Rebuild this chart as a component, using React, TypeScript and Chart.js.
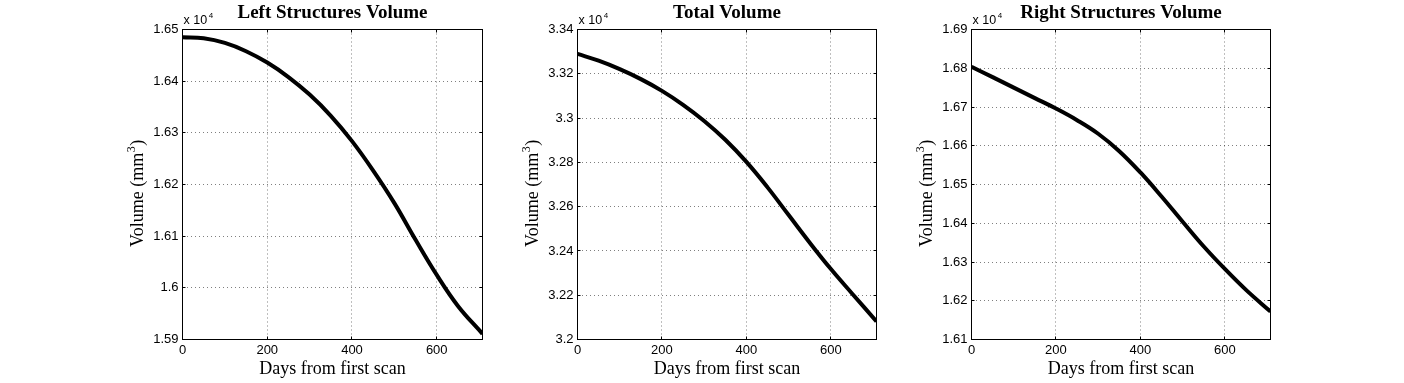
import React, { useEffect, useRef } from "react";
import { Chart, registerables } from "chart.js";

Chart.register(...registerables);

// ---- data (volumes in mm^3, shown on axis in units of 10^4) ----
const days = [0, 50, 100, 150, 200, 250, 300, 350, 400, 450, 500, 550, 600, 650, 708];
const leftVolume = [16485, 16483, 16474, 16458, 16436, 16408, 16374, 16333, 16284, 16227, 16164, 16093, 16025, 15965, 15911];
const totalVolume = [33290, 33259, 33221, 33176, 33123, 33060, 32987, 32902, 32802, 32687, 32562, 32437, 32318, 32208, 32082];
const rightVolume = [16804, 16777, 16750, 16723, 16696, 16666, 16631, 16586, 16531, 16469, 16404, 16340, 16282, 16228, 16172];

const titles = ["Left Structures Volume", "Total Volume", "Right Structures Volume"];
const yMins = [15900, 32000, 16100];
const yMaxs = [16500, 33400, 16900];
const ySteps = [100, 200, 100];
const xMax = 708;
const xStep = 200;
const xLabel = "Days from first scan";
const yLabelMain = "Volume (mm";
const yLabelSup = "3";
const yLabelEnd = ")";
const multiplierBase = "x 10";
const multiplierExp = "4";

// ---- layout ----
const H = 383;
const CANVAS_W = 430;
const AXIS_W = 102.5;
const PLOT_TOP = 29.5;
const PLOT_BOTTOM = 339.5;
const plotLefts = [182.5, 577.5, 971.5];
const plotWidths = [300, 299, 299];

const fmt = (v: number) => String(parseFloat((v / 1e4).toFixed(4)));

const framePlugin = {
  id: "matlabFrame",
  afterDraw(chart: any) {
    const { ctx, chartArea, scales } = chart;
    const { left, right, top, bottom } = chartArea;
    const title = chart.options.plugins.matlabFrame.title;
    ctx.save();
    ctx.strokeStyle = "#000";
    ctx.lineWidth = 1;
    ctx.strokeRect(left, top, right - left, bottom - top);
    const tl = 3;
    ctx.beginPath();
    scales.x.ticks.forEach((t: any) => {
      const px = Math.round(scales.x.getPixelForValue(t.value) - 0.5) + 0.5;
      ctx.moveTo(px, bottom);
      ctx.lineTo(px, bottom - tl);
      ctx.moveTo(px, top);
      ctx.lineTo(px, top + tl);
    });
    scales.y.ticks.forEach((t: any) => {
      const py = Math.round(scales.y.getPixelForValue(t.value) - 0.5) + 0.5;
      ctx.moveTo(left, py);
      ctx.lineTo(left + tl, py);
      ctx.moveTo(right, py);
      ctx.lineTo(right - tl, py);
    });
    ctx.stroke();

    ctx.fillStyle = "#000";
    // title
    ctx.font = 'bold 19px "Liberation Serif"';
    ctx.textAlign = "center";
    ctx.textBaseline = "alphabetic";
    ctx.fillText(title, (left + right) / 2, 17.5);

    // x 10^4
    ctx.textAlign = "left";
    ctx.font = '12.5px "Liberation Sans"';
    ctx.fillText(multiplierBase, left + 1, 24);
    const wb = ctx.measureText(multiplierBase).width;
    ctx.font = '8px "Liberation Sans"';
    ctx.fillText(multiplierExp, left + 1 + wb + 1.5, 17.5);

    // x label
    ctx.font = '18px "Liberation Serif"';
    ctx.textAlign = "center";
    ctx.fillText(xLabel, (left + right) / 2, 374);

    // y label
    ctx.save();
    ctx.translate(left - 39.8, 247);
    ctx.rotate(-Math.PI / 2);
    ctx.textAlign = "left";
    ctx.font = '18px "Liberation Serif"';
    ctx.fillText(yLabelMain, 0, 0);
    const w1 = ctx.measureText(yLabelMain).width;
    ctx.font = '12px "Liberation Serif"';
    ctx.fillText(yLabelSup, w1 + 0.5, -8);
    const w2 = ctx.measureText(yLabelSup).width;
    ctx.font = '18px "Liberation Serif"';
    ctx.fillText(yLabelEnd, w1 + w2 + 1, 0);
    ctx.restore();

    ctx.restore();
  },
};

type PanelProps = {
  title: string;
  values: number[];
  yMin: number;
  yMax: number;
  yStep: number;
  plotLeft: number;
  plotWidth: number;
};

function Panel({ title, values, yMin, yMax, yStep, plotLeft, plotWidth }: PanelProps) {
  const ref = useRef<HTMLCanvasElement>(null);
  useEffect(() => {
    if (!ref.current) return;
    const tickFont = { family: '"Liberation Sans"', size: 13 };
    const gridColor = "rgba(0,0,0,0.5)";
    const chart = new Chart(ref.current, {
      type: "line",
      data: {
        datasets: [
          {
            data: days.map((d, i) => ({ x: d, y: values[i] })),
            borderColor: "#000",
            borderWidth: 4,
            pointRadius: 0,
            fill: false,
            tension: 0.4,
            cubicInterpolationMode: "default",
          },
        ],
      },
      options: {
        animation: false,
        responsive: false,
        devicePixelRatio: 1,
        layout: {
          padding: { top: PLOT_TOP, left: 0, bottom: 0, right: CANVAS_W - AXIS_W - plotWidth },
        },
        plugins: {
          legend: { display: false },
          tooltip: { enabled: false },
          title: { display: false },
          matlabFrame: { title },
        } as any,
        scales: {
          x: {
            type: "linear",
            min: 0,
            max: xMax,
            ticks: {
              stepSize: xStep,
              includeBounds: false,
              font: tickFont,
              color: "#000",
              padding: 3,
              maxRotation: 0,
            },
            grid: { color: gridColor, drawTicks: false, lineWidth: 1 },
            border: { display: false, dash: [1, 3] },
            afterFit: (s: any) => {
              s.height = H - PLOT_BOTTOM;
            },
          },
          y: {
            type: "linear",
            min: yMin,
            max: yMax,
            ticks: {
              stepSize: yStep,
              includeBounds: false,
              font: tickFont,
              color: "#000",
              padding: 4,
              callback: (v: any) => fmt(Number(v)),
            },
            grid: { color: gridColor, drawTicks: false, lineWidth: 1 },
            border: { display: false, dash: [1, 3] },
            afterFit: (s: any) => {
              s.width = AXIS_W;
            },
          },
        },
      } as any,
      plugins: [framePlugin],
    });
    return () => chart.destroy();
  }, [title, values, yMin, yMax, yStep, plotLeft, plotWidth]);
  return (
    <canvas
      ref={ref}
      width={CANVAS_W}
      height={H}
      style={{ position: "absolute", left: plotLeft - AXIS_W, top: 0, width: CANVAS_W, height: H }}
    />
  );
}

export default function App() {
  const series = [leftVolume, totalVolume, rightVolume];
  return (
    <div style={{ position: "absolute", left: 0, top: 0, width: 1404, height: H, background: "#fff", overflow: "hidden" }}>
      {series.map((vals, i) => (
        <Panel
          key={i}
          title={titles[i]}
          values={vals}
          yMin={yMins[i]}
          yMax={yMaxs[i]}
          yStep={ySteps[i]}
          plotLeft={plotLefts[i]}
          plotWidth={plotWidths[i]}
        />
      ))}
    </div>
  );
}
